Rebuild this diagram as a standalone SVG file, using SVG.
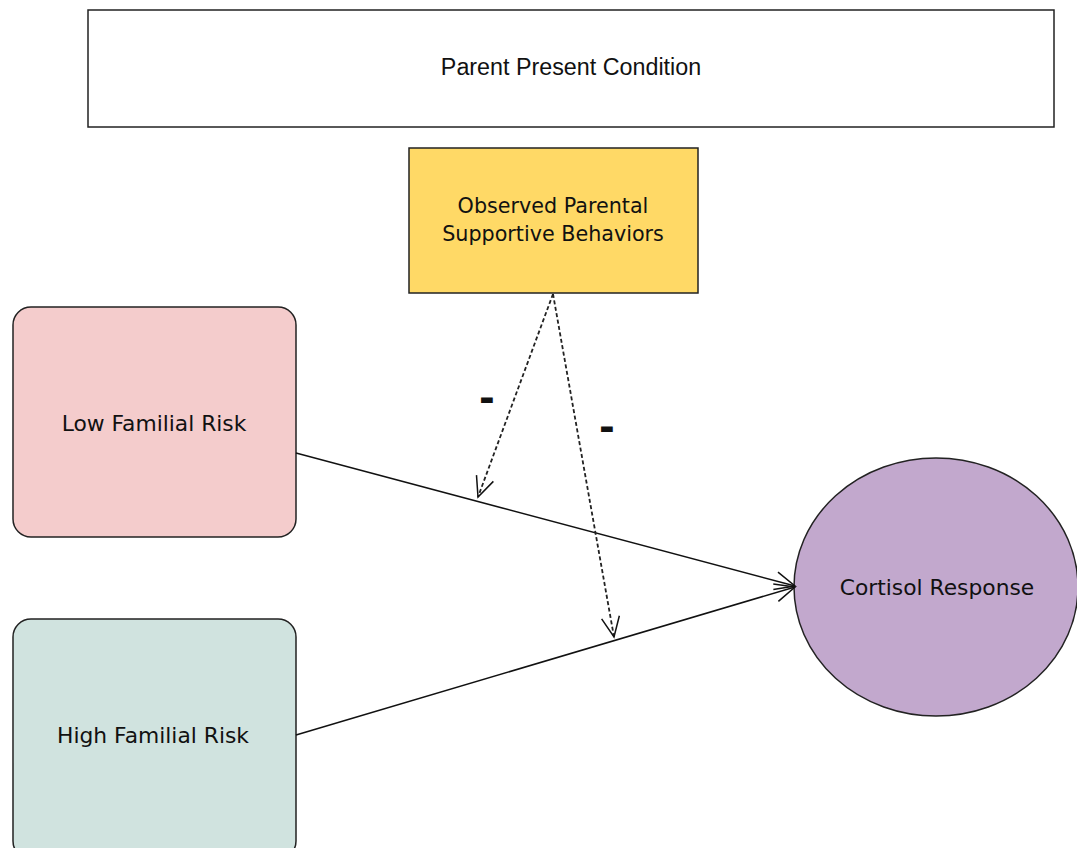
<svg xmlns="http://www.w3.org/2000/svg" width="1077" height="848" viewBox="0 0 1077 848">
  <style>
    .lbl { font-family: "DejaVu Sans", Verdana, sans-serif; font-size: 21.8px; fill: #111; text-anchor: middle; dominant-baseline: central; }
    .title { font-family: "Liberation Sans", Arial, sans-serif; font-size: 23.3px; fill: #111; text-anchor: middle; dominant-baseline: central; }
    .small { font-size: 20.7px; }
    .box { stroke: #222; stroke-width: 1.5; }
    .edge { fill: none; stroke: #111; stroke-width: 1.6; }
    .dash { fill: none; stroke: #222; stroke-width: 1.8; stroke-dasharray: 4 2.5; }
    .minus { font-family: "Liberation Sans", Arial, sans-serif; font-size: 46px; font-weight: bold; fill: #111; text-anchor: middle; dominant-baseline: central; }
  </style>
  <defs>
    <marker id="openArrow" viewBox="0 0 24 24" refX="22" refY="12" markerWidth="24" markerHeight="24" markerUnits="userSpaceOnUse" orient="auto">
      <path d="M2 3 L22 12 L2 21" fill="none" stroke="#111" stroke-width="1.5"/>
    </marker>
  </defs>
  <rect width="1077" height="848" fill="#ffffff"/>

  <g id="parent-present">
    <rect class="box" x="88" y="10" width="966" height="117" fill="#ffffff"/>
    <text class="title" x="571" y="67">Parent Present Condition</text>
  </g>

  <g id="supportive-behaviors">
    <rect class="box" x="409" y="148" width="289" height="145" fill="#ffd966"/>
    <text class="lbl small" x="553" y="206">Observed Parental</text>
    <text class="lbl small" x="553" y="234">Supportive Behaviors</text>
  </g>

  <g id="low-risk">
    <rect class="box" x="13" y="307" width="283" height="230" rx="18" fill="#f4cccc"/>
    <text class="lbl" x="154" y="423">Low Familial Risk</text>
  </g>

  <g id="high-risk">
    <rect class="box" x="13" y="619" width="283" height="240" rx="18" fill="#d0e3df"/>
    <text class="lbl" x="153" y="735">High Familial Risk</text>
  </g>

  <g id="cortisol">
    <ellipse class="box" cx="936" cy="587" rx="142" ry="129" fill="#c2a8cd"/>
    <text class="lbl" x="937" y="587">Cortisol Response</text>
  </g>

  <g id="connectors">
    <line class="edge" x1="296" y1="453" x2="795" y2="586" marker-end="url(#openArrow)"/>
    <line class="edge" x1="296" y1="735" x2="795" y2="587" marker-end="url(#openArrow)"/>
    <line class="dash" x1="553" y1="294" x2="478" y2="497" marker-end="url(#openArrow)"/>
    <line class="dash" x1="553" y1="294" x2="614" y2="637" marker-end="url(#openArrow)"/>
    <text class="minus" x="487" y="396">-</text>
    <text class="minus" x="607" y="425">-</text>
  </g>
</svg>
